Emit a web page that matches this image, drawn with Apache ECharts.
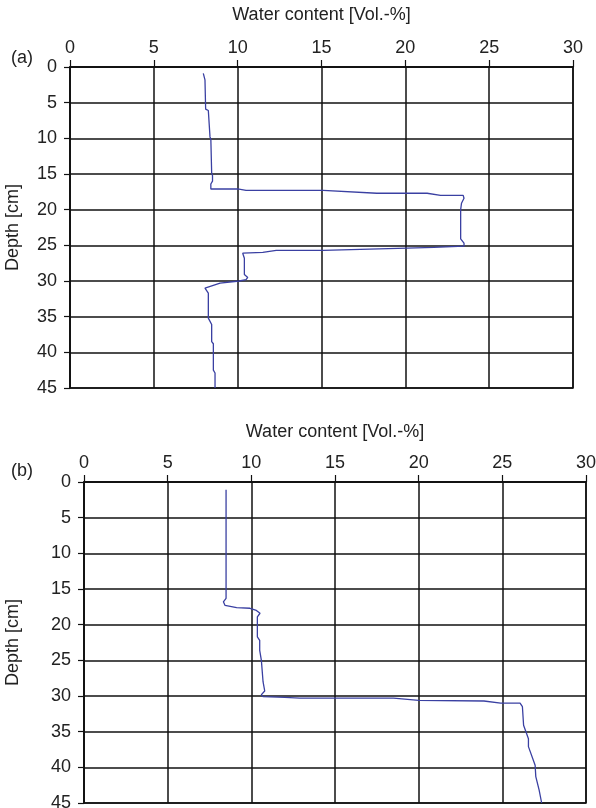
<!DOCTYPE html>
<html>
<head>
<meta charset="utf-8">
<script src="https://cdn.jsdelivr.net/npm/echarts@6/dist/echarts.min.js"></script>
<style>
  html, body { margin: 0; padding: 0; background: #fff; }
  #main { width: 596px; height: 808px; }
</style>
</head>
<body>
<div id="main"></div>
<script>
// profile (a): water content [Vol.-%] vs depth [cm]
var wcA = [7.95, 8.05, 8.09, 8.25, 8.35, 8.4, 8.45, 8.5, 8.5, 8.4, 8.4, 10.0, 10.5, 15.1, 18.3, 20.0, 21.3, 22.1, 23.45, 23.5,
           23.35, 23.3, 23.3, 23.5, 23.5, 21.7, 20.1, 15.1, 12.3, 11.5, 10.3, 10.3, 10.4, 10.4, 10.6, 10.5, 10.1, 8.95, 8.05, 8.0,
           8.25, 8.25, 8.45, 8.45, 8.55, 8.55, 8.65, 8.65];
var depthA = [0.9, 1.8, 5.9, 6.1, 9.8, 10.1, 14.9, 15.2, 16.0, 16.4, 17.1, 17.1, 17.3, 17.3, 17.7, 17.7, 17.7, 18.0, 18.0, 18.4,
              19.1, 20.0, 24.1, 24.7, 25.1, 25.3, 25.4, 25.7, 25.7, 26.0, 26.1, 26.3, 26.8, 29.1, 29.5, 29.8, 30.0, 30.3, 31.0, 31.2,
              31.7, 35.2, 36.1, 38.5, 38.8, 42.5, 42.9, 45];

// profile (b)
var wcB = [8.49, 8.49, 8.33, 8.43, 9.12, 9.92, 10.3, 10.52, 10.36, 10.36, 10.5, 10.5, 10.6, 10.7, 10.8, 10.6, 10.7, 12.0, 12.9, 18.5,
           20.0, 23.9, 24.9, 26.06, 26.2, 26.27, 26.56, 26.56, 26.96, 27.0, 27.2, 27.35];
var depthB = [1.1, 16.3, 16.8, 17.3, 17.6, 17.7, 18.0, 18.4, 18.9, 21.7, 22.2, 23.6, 25.0, 28.0, 29.3, 29.8, 30.1, 30.2, 30.3, 30.3,
              30.6, 30.7, 31.0, 31.0, 31.5, 34.1, 36.0, 37.1, 39.7, 41.3, 43.2, 45];

var xName = 'Water content [Vol.-%]';
var yName = 'Depth [cm]';
var panelLabels = ['(a)', '(b)'];

function pairs(xs, ys) {
	var out = [];
	for (var i = 0; i < xs.length; i++) {
		out.push([xs[i], ys[i]]);
	}
	return out;
}

var chart = echarts.init(document.getElementById('main'));

var font = 'Liberation Sans, Arial, sans-serif';
var fs = 18;
var textColor = '#222';
var gridColor = '#111';

function xAxisFor(idx, gap) {
	return {
		gridIndex: idx,
		type: 'value',
		position: 'top',
		min: 0,
		max: 30,
		interval: 5,
		name: xName,
		nameLocation: 'middle',
		nameGap: gap,
		nameTextStyle: { color: textColor, fontSize: fs, fontFamily: font },
		axisLine: { show: true, lineStyle: { color: gridColor, width: 1.5 } },
		axisTick: { show: true, length: 7, lineStyle: { color: gridColor, width: 1.2 } },
		axisLabel: { color: textColor, fontSize: fs, fontFamily: font, margin: 10 },
		splitLine: { show: true, lineStyle: { color: gridColor, width: 1.5 } }
	};
}

function yAxisFor(idx, gap) {
	return {
		gridIndex: idx,
		type: 'value',
		inverse: true,
		min: 0,
		max: 45,
		interval: 5,
		name: yName,
		nameLocation: 'middle',
		nameGap: gap,
		nameTextStyle: { color: textColor, fontSize: fs, fontFamily: font },
		axisLine: { show: true, lineStyle: { color: gridColor, width: 1.5 } },
		axisTick: { show: true, length: 6, lineStyle: { color: gridColor, width: 1.2 } },
		axisLabel: { color: textColor, fontSize: fs, fontFamily: font, margin: 13 },
		splitLine: { show: true, lineStyle: { color: gridColor, width: 1.5 } }
	};
}

var option = {
	backgroundColor: '#fff',
	animation: false,
	title: [
		{ text: panelLabels[0], left: 6, top: 44, textStyle: { color: textColor, fontSize: fs, fontWeight: 'normal', fontFamily: font } },
		{ text: panelLabels[1], left: 6, top: 457, textStyle: { color: textColor, fontSize: fs, fontWeight: 'normal', fontFamily: font } }
	],
	grid: [
		{ left: 70, right: 23, top: 67, height: 321, outerBoundsMode: 'none', containLabel: false,
		  show: true, borderColor: gridColor, borderWidth: 1.5 },
		{ left: 84, right: 10, top: 482, height: 321, outerBoundsMode: 'none', containLabel: false,
		  show: true, borderColor: gridColor, borderWidth: 1.5 }
	],
	xAxis: [xAxisFor(0, 43), xAxisFor(1, 41)],
	yAxis: [yAxisFor(0, 48), yAxisFor(1, 62)],
	series: [
		{
			type: 'line',
			xAxisIndex: 0,
			yAxisIndex: 0,
			data: pairs(wcA, depthA),
			showSymbol: false,
			lineStyle: { color: '#3a40a2', width: 1.3 }
		},
		{
			type: 'line',
			xAxisIndex: 1,
			yAxisIndex: 1,
			data: pairs(wcB, depthB),
			showSymbol: false,
			lineStyle: { color: '#3a40a2', width: 1.3 }
		}
	]
};

chart.setOption(option);
</script>
</body>
</html>
